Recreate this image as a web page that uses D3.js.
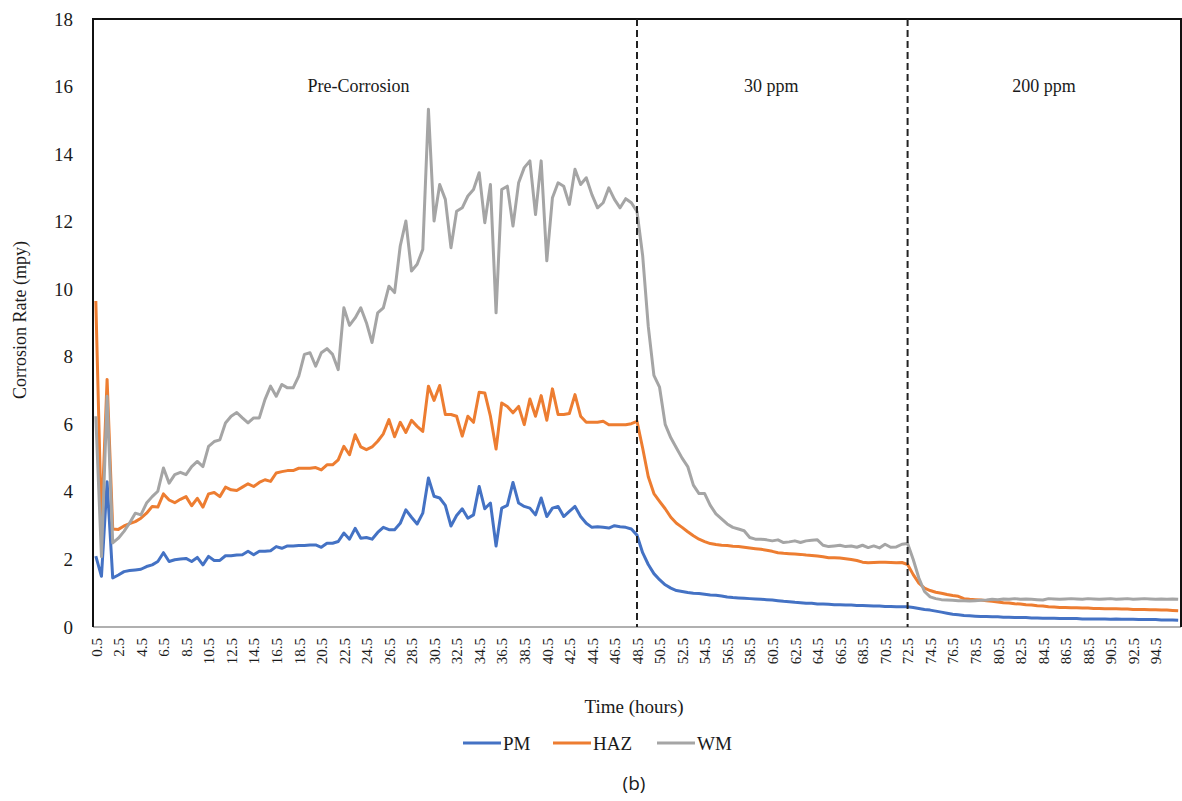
<!DOCTYPE html>
<meta charset="utf-8">
<style>
body{margin:0;background:#fff;}
svg text{font-family:"Liberation Serif","Times New Roman",serif;fill:#1a1a1a;}
</style>
<svg id="chart" width="1182" height="801"></svg>
<script src="https://d3js.org/d3.v7.min.js"></script>
<script>
// time in hours, one reading every half hour
const hours = d3.range(0.5, 96.75, 0.5)
const tickHours = d3.range(0.5, 95, 2)
const yTicks = [0, 2, 4, 6, 8, 10, 12, 14, 16, 18]

const pm = [
  2.1, 1.5, 4.3, 1.45,  1.54, 1.64, 1.67, 1.69,  1.71, 1.79, 1.84, 1.94,
  2.2, 1.94, 1.99, 2.01,  2.03, 1.94, 2.06, 1.84,  2.09, 1.97, 1.97, 2.11,
  2.11, 2.13, 2.14, 2.24,  2.14, 2.24, 2.24, 2.26,  2.38, 2.33, 2.4, 2.4,
  2.41, 2.41, 2.43, 2.43,  2.36, 2.48, 2.48, 2.53,  2.78, 2.6, 2.92, 2.63,
  2.65, 2.6, 2.8, 2.95,  2.88, 2.88, 3.07, 3.47,  3.25, 3.05, 3.37, 4.41,
  3.87, 3.82, 3.6, 2.99,  3.3, 3.5, 3.22, 3.32,  4.16, 3.5, 3.67, 2.4,
  3.52, 3.6, 4.28, 3.67,  3.57, 3.52, 3.32, 3.82,  3.27, 3.52, 3.57, 3.27,
  3.42, 3.57, 3.27, 3.07,  2.95, 2.97, 2.95, 2.93,  3.0, 2.97, 2.95, 2.9,
  2.72, 2.2, 1.85, 1.58,  1.4, 1.25, 1.15, 1.08,  1.05, 1.02, 1.0, 0.99,
  0.97, 0.95, 0.94, 0.92,  0.89, 0.87, 0.86, 0.85,  0.84, 0.83, 0.82, 0.81,
  0.8, 0.78, 0.76, 0.75,  0.73, 0.72, 0.7, 0.7,  0.68, 0.68, 0.67, 0.66,
  0.66, 0.65, 0.65, 0.64,  0.64, 0.63, 0.62, 0.62,  0.61, 0.61, 0.6, 0.6,
  0.6, 0.58, 0.55, 0.52,  0.5, 0.47, 0.44, 0.41,  0.38, 0.36, 0.34, 0.33,
  0.32, 0.31, 0.31, 0.3,  0.3, 0.29, 0.29, 0.28,  0.28, 0.28, 0.27, 0.27,
  0.26, 0.26, 0.26, 0.25,  0.25, 0.25, 0.25, 0.24,  0.24, 0.24, 0.24, 0.24,
  0.23, 0.24, 0.23, 0.23,  0.23, 0.22, 0.22, 0.22,  0.22, 0.21, 0.21, 0.21,
  0.2
]

const haz = [
  9.65, 3.0, 7.33, 2.9,  2.89, 2.99, 3.06, 3.12,  3.22, 3.37, 3.57, 3.55,
  3.94, 3.76, 3.68, 3.78,  3.86, 3.59, 3.81, 3.55,  3.94, 3.98, 3.86, 4.14,
  4.06, 4.04, 4.14, 4.24,  4.16, 4.28, 4.36, 4.31,  4.56, 4.6, 4.63, 4.63,
  4.7, 4.7, 4.7, 4.72,  4.65, 4.8, 4.8, 4.95,  5.35, 5.1, 5.69, 5.33,
  5.25, 5.33, 5.5, 5.72,  6.14, 5.63, 6.06, 5.76,  6.12, 5.94, 5.79, 7.13,
  6.71, 7.15, 6.29, 6.29,  6.24, 5.65, 6.24, 6.06,  6.95, 6.93, 6.24, 5.27,
  6.63, 6.53, 6.34, 6.53,  5.99, 6.75, 6.24, 6.85,  6.12, 7.05, 6.29, 6.29,
  6.32, 6.88, 6.24, 6.06,  6.06, 6.06, 6.09, 5.99,  5.99, 5.99, 5.99, 6.02,
  6.09, 5.3, 4.45, 3.95,  3.72, 3.5, 3.25, 3.07,  2.95, 2.82, 2.7, 2.6,
  2.53, 2.47, 2.44, 2.42,  2.41, 2.39, 2.38, 2.36,  2.34, 2.32, 2.3, 2.27,
  2.24, 2.2, 2.18, 2.17,  2.16, 2.15, 2.13, 2.12,  2.1, 2.08, 2.05, 2.05,
  2.04, 2.02, 2.0, 1.97,  1.92, 1.9, 1.91, 1.92,  1.92, 1.91, 1.9, 1.91,
  1.85, 1.55, 1.3, 1.15,  1.08, 1.03, 1.0, 0.96,  0.93, 0.91, 0.84, 0.82,
  0.81, 0.8, 0.78, 0.76,  0.74, 0.72, 0.71, 0.69,  0.68, 0.66, 0.65, 0.63,
  0.62, 0.6, 0.59, 0.58,  0.58, 0.57, 0.57, 0.56,  0.56, 0.55, 0.55, 0.54,
  0.54, 0.54, 0.53, 0.53,  0.52, 0.52, 0.52, 0.51,  0.51, 0.5, 0.5, 0.49,
  0.48
]

const wm = [
  6.24, 2.08, 6.83, 2.49,  2.63, 2.83, 3.08, 3.37,  3.32, 3.67, 3.86, 4.02,
  4.71, 4.26, 4.51, 4.58,  4.51, 4.75, 4.9, 4.75,  5.35, 5.49, 5.54, 6.04,
  6.24, 6.35, 6.19, 6.04,  6.19, 6.19, 6.73, 7.13,  6.83, 7.18, 7.08, 7.08,
  7.43, 8.07, 8.12, 7.72,  8.12, 8.24, 8.07, 7.62,  9.45, 8.93, 9.15, 9.45,
  9.01, 8.42, 9.3, 9.45,  10.09, 9.9, 11.28, 12.02,  10.54, 10.74, 11.18, 15.33,
  12.02, 13.1, 12.66, 11.23,  12.31, 12.41, 12.76, 12.95,  13.45, 11.97, 13.1, 9.3,
  12.95, 13.05, 11.87, 13.15,  13.6, 13.8, 12.21, 13.8,  10.84, 12.71, 13.15, 13.05,
  12.51, 13.55, 13.1, 13.3,  12.8, 12.41, 12.56, 13.0,  12.66, 12.41, 12.68, 12.56,
  12.3, 11.0, 8.9, 7.45,  7.1, 6.0, 5.6, 5.3,  5.0, 4.75, 4.2, 3.95,
  3.95, 3.6, 3.35, 3.2,  3.05, 2.95, 2.9, 2.85,  2.65, 2.6, 2.6, 2.58,
  2.55, 2.58, 2.5, 2.52,  2.55, 2.5, 2.55, 2.57,  2.58, 2.42, 2.38, 2.4,
  2.42, 2.38, 2.4, 2.36,  2.42, 2.35, 2.4, 2.34,  2.45, 2.36, 2.37, 2.45,
  2.47, 2.0, 1.45, 1.05,  0.89, 0.84, 0.81, 0.8,  0.79, 0.78, 0.78, 0.77,
  0.78, 0.79, 0.8, 0.82,  0.81, 0.83, 0.82, 0.84,  0.82, 0.83, 0.82, 0.81,
  0.8, 0.84, 0.83, 0.82,  0.83, 0.84, 0.83, 0.82,  0.84, 0.83, 0.82, 0.83,
  0.84, 0.82, 0.83, 0.84,  0.82, 0.83, 0.84, 0.83,  0.82, 0.83, 0.82, 0.83,
  0.82
]

const seriesNames = ['PM', 'HAZ', 'WM']
const seriesColors = ['#4472C4', '#ED7D31', '#A5A5A5']
const seriesValues = [pm, haz, wm]

// stage boundaries and their labels
const stageBreaks = [48.5, 72.5]
const stageLabels = [
  {text: 'Pre-Corrosion', at: 23.8},
  {text: '30 ppm', at: 60.4},
  {text: '200 ppm', at: 84.6}
]

const svg = d3.select('#chart')
const plot = {left: 93, right: 1181, top: 19, bottom: 627}

const x = d3.scaleLinear().domain([0.25, 96.75]).range([plot.left, plot.right])
const y = d3.scaleLinear().domain([0, 18]).range([plot.bottom, plot.top])

// y tick labels
svg.append('g')
  .attr('transform', `translate(${plot.left},0)`)
  .call(d3.axisLeft(y).tickValues(yTicks).tickSize(0).tickPadding(20))
  .call(g => g.select('.domain').remove())
  .selectAll('text')
  .style('font-family', '"Liberation Serif",serif')
  .style('font-size', '19px')
  .attr('fill', '#1a1a1a')

// x tick labels (rotated)
svg.append('g')
  .attr('transform', `translate(0,${plot.bottom})`)
  .call(d3.axisBottom(x).tickValues(tickHours).tickSize(0).tickFormat(d3.format('.1f')))
  .call(g => g.select('.domain').remove())
  .selectAll('text')
  .style('font-family', '"Liberation Serif",serif')
  .style('font-size', '15px')
  .attr('fill', '#1a1a1a')
  .attr('transform', 'rotate(-90)')
  .attr('text-anchor', 'end')
  .attr('x', -11)
  .attr('y', 0)
  .attr('dy', '0.35em')

// frame
svg.append('line').attr('x1', plot.left).attr('x2', plot.right)
  .attr('y1', plot.bottom).attr('y2', plot.bottom)
  .attr('stroke', '#b0b0b0').attr('stroke-width', 2)
svg.append('path')
  .attr('d', `M${plot.left},${plot.bottom}V${plot.top}H${plot.right}V${plot.bottom}`)
  .attr('fill', 'none').attr('stroke', '#111').attr('stroke-width', 2)

// series lines
const line = d3.line().x((d, i) => x(hours[i])).y(d => y(d))
seriesValues.forEach((vals, k) => {
  svg.append('path')
    .datum(vals)
    .attr('d', line)
    .attr('fill', 'none')
    .attr('stroke', seriesColors[k])
    .attr('stroke-width', 3)
    .attr('stroke-linejoin', 'round')
})

// dashed stage separators
svg.selectAll('line.stage').data(stageBreaks).enter().append('line')
  .attr('class', 'stage')
  .attr('x1', d => x(d)).attr('x2', d => x(d))
  .attr('y1', plot.top).attr('y2', plot.bottom)
  .attr('stroke', '#222').attr('stroke-width', 2)
  .attr('stroke-dasharray', '7,4')

svg.selectAll('text.stage').data(stageLabels).enter().append('text')
  .attr('class', 'stage')
  .attr('x', d => x(d.at)).attr('y', 92)
  .attr('text-anchor', 'middle')
  .style('font-size', '18px')
  .text(d => d.text)

// axis titles
svg.append('text')
  .attr('transform', 'translate(26,320) rotate(-90)')
  .attr('text-anchor', 'middle')
  .style('font-size', '18px')
  .text('Corrosion Rate (mpy)')

svg.append('text')
  .attr('x', 634).attr('y', 713)
  .attr('text-anchor', 'middle')
  .style('font-size', '19px')
  .text('Time (hours)')

// legend
const legendX = [463, 553, 657]
const legend = svg.selectAll('g.legend').data(seriesNames).enter().append('g')
  .attr('class', 'legend')
  .attr('transform', (d, i) => `translate(${legendX[i]},743)`)
legend.append('line')
  .attr('x1', 0).attr('x2', 38).attr('y1', 0).attr('y2', 0)
  .attr('stroke', (d, i) => seriesColors[i]).attr('stroke-width', 3)
legend.append('text')
  .attr('x', 40).attr('y', 7)
  .style('font-size', '19px')
  .text(d => d)

svg.append('text')
  .attr('x', 634).attr('y', 790)
  .attr('text-anchor', 'middle')
  .style('font-family', '"Open Sans","Liberation Sans",sans-serif')
  .style('font-size', '19px')
  .text('(b)')
</script>
